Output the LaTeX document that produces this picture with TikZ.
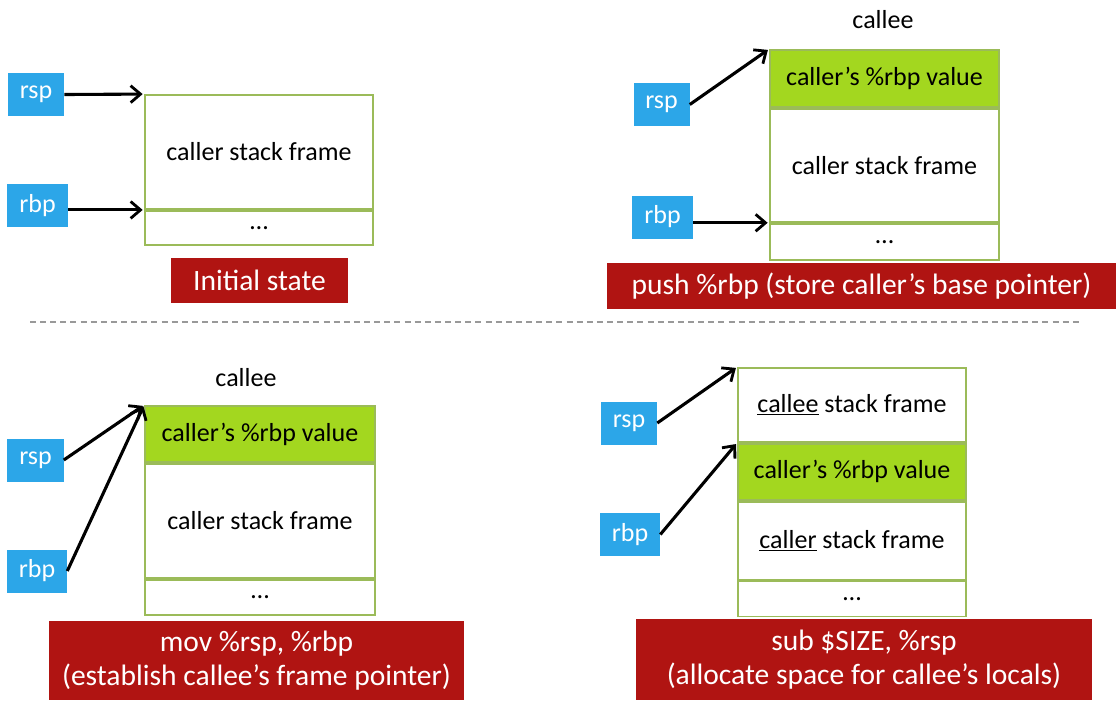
\documentclass[tikz,border=0pt]{standalone}
\usepackage{fontspec}
\setmainfont{Carlito}
\usetikzlibrary{positioning,arrows.meta}
\definecolor{regblue}{RGB}{44,166,232}
\definecolor{cellgreen}{RGB}{155,187,89}
\definecolor{savedgreen}{RGB}{163,215,31}
\definecolor{capred}{RGB}{176,20,18}
\tikzset{
  reg/.style={fill=regblue,text=white,inner sep=0pt,minimum width=1.4cm,minimum height=1.075cm,font=\fontsize{18.5}{21}\selectfont},
  cell/.style={draw=cellgreen,line width=1.3pt,fill=white,inner sep=0pt,minimum width=5.7cm,font=\fontsize{18.5}{22}\selectfont},
  saved/.style={cell,fill=savedgreen},
  caption/.style={fill=capred,text=white,inner sep=0pt,align=center,font=\fontsize{21}{24}\selectfont},
  ptr/.style={-{Straight Barb[length=7pt,width=12pt,line width=2pt]},line width=2.2pt,shorten >=1pt},
  tag/.style={font=\fontsize{18.5}{22}\selectfont}
}
\begin{document}
\begin{tikzpicture}[x=0.025cm,y=-0.025cm]
      \useasboundingbox (0,0) rectangle (1116,700);
      % initial state
      \node[cell,minimum height=2.85cm] (f1caller) at (259,152) {caller stack frame};
      \node[cell,minimum height=0.85cm,below=0pt of f1caller] (f1dots) {\ldots};
      \node[reg] (rsp1) at (36,94.5) {rsp};
      \node[reg,minimum width=1.525cm] (rbp1) at (37.5,205.5) {rbp};
      \draw[ptr] (rsp1.east) -- (f1caller.north west);
      \draw[ptr] (rbp1.east |- f1dots.north west) -- (f1dots.north west);
      \node[caption,minimum width=4.425cm,minimum height=1.125cm] (cap1) at (259.5,280.5) {Initial state};
      % push %rbp
      \node[tag] (callee2) at (883,20) {callee};
      \node[saved,minimum width=5.725cm,minimum height=1.425cm] (f2saved) at (884.5,78.5) {caller’s \%rbp value};
      \node[cell,minimum width=5.725cm,minimum height=2.825cm,below=0pt of f2saved] (f2caller) {caller stack frame};
      \node[cell,minimum width=5.725cm,minimum height=0.9cm,below=0pt of f2caller] (f2dots) {\ldots};
      \node[reg] (rsp2) at (661.5,104.5) {rsp};
      \node[reg,minimum width=1.525cm] (rbp2) at (662.5,217) {rbp};
      \draw[ptr] (rsp2.east) -- (f2saved.north west);
      \draw[ptr] (rbp2.east |- f2dots.north west) -- (f2dots.north west);
      \node[caption,minimum width=12.725cm,minimum height=1.15cm] (cap2) at (861.5,286) {push \%rbp (store caller’s base pointer)};
      \draw[gray!80,line width=1pt,dash pattern=on 4.2pt off 3pt] (30,322) -- (1080,322);
      % mov %rsp, %rbp
      \node[tag] (callee3) at (246,378) {callee};
      \node[saved,minimum width=5.75cm,minimum height=1.4cm] (f3saved) at (260,434) {caller’s \%rbp value};
      \node[cell,minimum width=5.75cm,minimum height=2.85cm,below=0pt of f3saved] (f3caller) {caller stack frame};
      \node[cell,minimum width=5.75cm,minimum height=0.875cm,below=0pt of f3caller] (f3dots) {\ldots};
      \node[reg] (rsp3) at (35.5,460) {rsp};
      \node[reg,minimum width=1.5cm] (rbp3) at (37,571) {rbp};
      \draw[ptr] (rsp3.east) -- (f3saved.north west);
      \draw[ptr] (rbp3.east) -- (f3saved.north west);
      \node[caption,minimum width=10.375cm,minimum height=1.975cm] (cap3) at (256.5,660.5) {mov \%rsp, \%rbp\\(establish callee’s frame pointer)};
      % sub $SIZE, %rsp
      \node[cell,minimum height=1.85cm] (f4callee) at (852,405) {\underline{callee} stack frame};
      \node[saved,minimum height=1.4cm,below=0pt of f4callee] (f4saved) {caller’s \%rbp value};
      \node[cell,minimum height=1.95cm,below=0pt of f4saved] (f4caller) {\underline{caller} stack frame};
      \node[cell,minimum height=0.875cm,below=0pt of f4caller] (f4dots) {\ldots};
      \node[reg] (rsp4) at (629,423) {rsp};
      \node[reg,minimum width=1.5cm] (rbp4) at (630,534.5) {rbp};
      \draw[ptr] (rsp4.east) -- (f4callee.north west);
      \draw[ptr] (rbp4.east) -- (f4saved.north west);
      \node[caption,minimum width=11.4cm,minimum height=2.025cm] (cap4) at (864,659.5) {sub \$SIZE, \%rsp\\(allocate space for callee’s locals)};
\end{tikzpicture}
\end{document}
